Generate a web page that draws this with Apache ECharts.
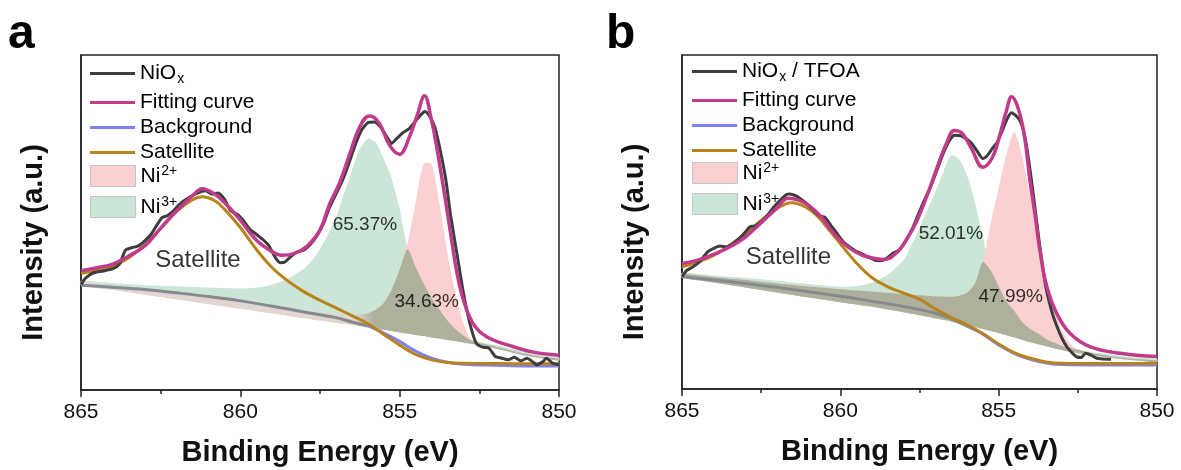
<!DOCTYPE html>
<html>
<head>
<meta charset="UTF-8">
<title>Ni 2p XPS</title>
<script src="https://cdn.jsdelivr.net/npm/echarts/dist/echarts.min.js"></script>
<style>
    html, body { margin: 0; padding: 0; background: #fff; }
    #main { width: 1181px; height: 470px; }
</style>
</head>
<body>
<div id="main"></div>
<script>
// ---- data (x = binding energy / eV, y = intensity, a.u. 0..100) ----
var rawA = [[865.0, 31.5], [864.85, 33.5], [864.6, 35.0], [864.3, 35.5], [864.0, 36.2], [863.8, 37.5], [863.6, 41.8], [863.4, 42.5],
    [863.2, 43.0], [863.0, 44.5], [862.8, 46.5], [862.6, 49.5], [862.45, 51.5], [862.3, 52.0], [862.1, 53.5], [861.9, 55.5],
    [861.6, 57.5], [861.3, 59.0], [861.1, 59.5], [860.9, 58.5], [860.7, 58.8], [860.5, 57.0], [860.3, 53.5], [860.1, 52.5],
    [859.9, 50.5], [859.7, 48.0], [859.5, 46.5], [859.3, 45.0], [859.1, 43.0], [858.9, 39.5], [858.75, 38.0], [858.6, 38.2],
    [858.4, 40.0], [858.2, 41.2], [858.0, 41.8], [857.8, 43.5], [857.6, 46.0], [857.4, 49.5], [857.2, 54.5], [857.0, 58.5],
    [856.8, 62.5], [856.6, 67.5], [856.4, 73.0], [856.2, 77.5], [856.0, 79.8], [855.8, 80.0], [855.6, 78.5], [855.4, 75.5],
    [855.25, 73.6], [855.1, 75.0], [854.9, 76.8], [854.7, 78.0], [854.5, 80.3], [854.3, 82.5], [854.2, 83.1], [854.05, 81.5],
    [853.9, 78.5], [853.75, 72.6], [853.55, 62.7], [853.4, 52.0], [853.2, 40.5], [853.0, 29.0], [852.8, 20.0], [852.6, 14.0],
    [852.4, 12.8], [852.2, 12.5], [852.0, 10.0], [851.8, 9.5], [851.6, 9.0], [851.4, 9.8], [851.2, 8.7], [851.0, 9.5],
    [850.8, 8.2], [850.7, 7.5], [850.5, 8.5], [850.4, 9.5], [850.2, 8.0], [850.0, 7.5]];
var fitA = [[865, 35.6], [864.5, 36.5], [864, 37.6], [863.5, 40.0], [863, 43.0], [862.5, 48.3], [862, 53.5], [861.5, 58.0],
    [861.2, 60.1], [860.8, 58.5], [860.4, 55.0], [860, 50.7], [859.5, 44.8], [859, 41.3], [858.7, 40.2], [858.3, 40.8],
    [857.9, 43.0], [857.5, 47.8], [857.2, 55.5], [856.9, 61.5], [856.6, 69.5], [856.25, 78.6], [855.95, 81.8], [855.65, 79.8],
    [855.3, 72.8], [855.0, 70.4], [854.7, 75.4], [854.45, 82.0], [854.22, 87.8], [854.0, 80.5], [853.84, 72.6], [853.58, 57.7],
    [853.37, 44.8], [853.2, 34.9], [853.0, 26.9], [852.7, 19.9], [852.27, 15.9], [851.43, 12.9], [850.8, 11.3], [850, 10.4]];
var bgA = [[865, 31.3], [864, 30.7], [863, 30.0], [862, 29.0], [861, 27.9], [860, 26.6], [859, 25.0], [858, 23.3], [857, 21.6],
    [856.5, 20.3], [856, 19.2], [855.5, 17.0], [855, 14.5], [854.5, 11.6], [854, 9.5], [853.5, 8.3], [853, 7.7], [852, 7.4],
    [851, 7.2], [850, 7.2]];
var satA = [[865, 34.8], [864.5, 35.7], [864, 36.8], [863.5, 39.5], [863, 43.3], [862.5, 48.2], [862, 53.3], [861.5, 56.8],
    [861.2, 57.7], [860.8, 56.5], [860.5, 54.0], [860, 48.5], [859.5, 42.0], [859, 36.5], [858.5, 32.5], [858, 29.3],
    [857.5, 26.8], [857, 24.5], [856.5, 22.2], [856, 19.8], [855.5, 16.6], [855, 13.4], [854.5, 10.6], [854, 9.0],
    [853.5, 8.2], [853, 8.0], [852, 7.9], [850, 7.8]];

var rawB = [[865.0, 33.6], [864.85, 35.5], [864.65, 36.6], [864.45, 38.0], [864.2, 41.0], [864.0, 42.1], [863.8, 42.8], [863.6, 42.5],
    [863.4, 43.5], [863.2, 45.0], [863.0, 47.0], [862.85, 48.6], [862.7, 48.8], [862.5, 50.0], [862.3, 52.0], [862.1, 54.5],
    [861.9, 56.5], [861.7, 58.2], [861.6, 58.4], [861.4, 57.8], [861.2, 56.5], [861.0, 55.0], [860.8, 53.0], [860.65, 51.8],
    [860.5, 51.5], [860.3, 49.0], [860.1, 46.5], [859.9, 44.0], [859.7, 42.5], [859.5, 41.2], [859.3, 40.4], [859.1, 39.5],
    [858.9, 38.5], [858.75, 38.4], [858.55, 39.0], [858.35, 40.6], [858.15, 41.5], [857.95, 44.0], [857.75, 47.5], [857.55, 52.0],
    [857.35, 56.5], [857.15, 60.5], [856.95, 65.5], [856.75, 70.5], [856.55, 74.5], [856.4, 76.0], [856.2, 75.8], [856.0, 74.8],
    [855.85, 73.5], [855.7, 71.5], [855.5, 69.0], [855.35, 70.0], [855.2, 72.0], [855.05, 73.8], [854.9, 77.0], [854.75, 80.5],
    [854.6, 82.7], [854.45, 81.8], [854.3, 79.8], [854.15, 74.5], [854.0, 65.0], [853.85, 54.0], [853.7, 42.6], [853.5, 30.0],
    [853.3, 22.5], [853.15, 18.5], [853.0, 15.2], [852.85, 12.7], [852.7, 11.0], [852.55, 9.7], [852.4, 9.4], [852.25, 10.7],
    [852.1, 10.2], [851.9, 9.2], [851.7, 9.0], [851.45, 8.9]];
var fitB = [[865, 37.6], [864.5, 38.6], [864, 40.3], [863.5, 42.5], [863, 45.5], [862.5, 49.8], [862, 54.2], [861.65, 57.1],
    [861.3, 56.5], [861, 55.0], [860.6, 51.5], [860.3, 47.6], [860, 44.5], [859.7, 42.1], [859.3, 40.0], [858.9, 39.1],
    [858.6, 38.8], [858.2, 41.0], [857.9, 45.0], [857.6, 50.0], [857.2, 59.5], [856.9, 67.5], [856.65, 73.5], [856.4, 77.4],
    [856.15, 76.5], [855.85, 71.8], [855.5, 66.4], [855.2, 69.3], [854.95, 76.5], [854.75, 83.5], [854.59, 87.5], [854.4, 84.5],
    [854.2, 76.5], [854.0, 61.5], [853.85, 52.0], [853.7, 41.6], [853.48, 30.6], [853.17, 22.7], [852.75, 16.7], [852.12, 12.7],
    [851.17, 10.7], [850, 9.7]];
var bgB = [[865, 33.6], [864, 32.6], [863, 31.6], [862, 30.4], [861, 29.1], [860, 27.8], [859, 26.3], [858, 24.7], [857, 22.7],
    [856.5, 21.0], [856, 18.8], [855.5, 16.4], [855, 13.2], [854.5, 10.6], [854, 8.9], [853.5, 7.8], [853, 7.3], [852, 7.2],
    [850, 7.2]];
var satB = [[865, 36.6], [864.5, 38.0], [864, 40.0], [863.5, 43.0], [863, 46.5], [862.5, 50.5], [862, 54.0], [861.55, 55.8],
    [861.1, 54.5], [860.7, 51.5], [860.3, 47.0], [860, 43.5], [859.5, 37.8], [859, 33.3], [858.5, 30.6], [858, 28.7],
    [857.5, 26.9], [857, 24.0], [856.5, 21.4], [856, 19.2], [855.5, 16.6], [855, 13.5], [854.5, 10.8], [854, 9.2],
    [853.5, 8.1], [853, 7.7], [852, 7.6], [850, 7.6]];

// peak components: energies shared by the baseline and both components of a panel
var fillE = [865, 864, 863, 862, 861, 860, 859.5, 859, 858.5, 858, 857.75, 857.5, 857.25, 857, 856.75, 856.5, 856.25, 856,
    855.75, 855.5, 855.25, 855, 854.75, 854.5, 854.25, 854, 853.75, 853.5, 853.25, 853, 852.75, 852.5, 852, 851.5, 851, 850.5, 850];
var baseA = [31.3, 29.9, 28.5, 27.1, 25.7, 24.3, 23.6, 22.9, 22.2, 21.5, 21.15, 20.8, 20.45, 20.1, 19.75, 19.4, 19.05, 18.7,
    18.3, 17.95, 17.6, 17.2, 16.85, 16.45, 16.1, 15.7, 15.35, 14.95, 14.6, 14.2, 13.8, 13.4, 12.4, 11.3, 10.2, 9.4, 8.8];
var ni3A = [1.3, 2.0, 2.8, 3.9, 4.9, 6.0, 6.9, 8.6, 11.1, 14.8, 17.5, 21.2, 26.0, 31.4, 38.8, 46.1, 52.8, 56.4,
    55.5, 51.0, 45.4, 36.8, 25.2, 20.3, 15.7, 11.8, 8.6, 5.8, 3.6, 2.1, 1.2, 1.0, 1.0, 1.0, 1.0, 1.0, 1.0];
var ni2A = [0.8, 1.2, 1.6, 2.0, 2.2, 2.3, 2.3, 2.3, 2.3, 2.3, 2.3, 2.4, 2.5, 2.6, 2.8, 3.1, 3.5, 4.2,
    5.7, 8.05, 12.4, 18.8, 27.15, 39.55, 51.4, 51.8, 40.15, 25.85, 14.2, 5.7, 1.0, 0.6, 0.6, 0.5, 0.5, 0.5, 0.5];
var baseB = [33.4, 31.9, 30.4, 28.9, 27.4, 26.0, 25.3, 24.6, 23.8, 23.0, 22.55, 22.1, 21.65, 21.2, 20.7, 20.2, 19.7, 19.2,
    18.6, 18.0, 17.4, 16.8, 16.1, 15.4, 14.7, 14.0, 13.4, 12.8, 12.2, 11.6, 11.2, 10.8, 10.0, 9.4, 8.8, 8.4, 8.0];
var ni3B = [1.4, 2.1, 2.9, 3.5, 4.0, 4.6, 5.5, 7.2, 10.5, 15.6, 20.65, 26.1, 32.15, 37.8, 44.3, 49.8, 49.1, 44.8,
    37.4, 27.5, 18.1, 14.0, 10.1, 7.9, 5.3, 4.0, 3.2, 2.2, 1.7, 1.3, 1.1, 1.0, 1.0, 1.0, 1.0, 1.0, 1.1];
var ni2B = [1.0, 1.6, 2.2, 2.7, 3.3, 3.9, 4.2, 4.6, 5.0, 5.4, 5.7, 6.0, 6.3, 6.6, 7.0, 7.4, 8.2, 9.6,
    12.9, 20.0, 32.1, 43.5, 54.4, 61.4, 54.5, 43.3, 31.2, 20.7, 11.6, 5.9, 2.6, 1.0, 0.6, 0.5, 0.5, 0.5, 0.5];

// annotations [text, energy, intensity]
var notesA = [['Satellite', 861.33, 38.8], ['65.37%', 856.09, 49.3], ['34.63%', 854.15, 26.4]];
var notesB = [['Satellite', 861.64, 39.4], ['52.01%', 856.51, 46.4], ['47.99%', 854.62, 27.6]];
var ticksE = [850, 855, 860, 865];
// background is seen through the peak fills above this energy
var bgCoveredFrom = 856;
// in panel a the thin tail overlap is pale, it turns olive under the peaks
var paleTailA = [856.4, 855.8];

// ---- styles ----
var FONT = "'Liberation Sans', Arial, Helvetica, sans-serif";
var C_RAW = '#3d3d3d', C_FIT = '#c13b8b', C_BG = '#8080f6', C_BG_UNDER = '#868a8f', C_SAT = '#b8831b';
var C_GREEN = '#cbe6d6', C_PINK = '#fcd0d0', C_OLIVE = '#adb09b', C_PALE = '#e2d6d3';

var chart = echarts.init(document.getElementById('main'));

var series = [];

function lineSeries(k, name, data, color, width, smooth, z) {
    return {
        type: 'line', name: name, xAxisIndex: k, yAxisIndex: k, data: data,
        symbol: 'none', showSymbol: false, smooth: smooth,
        itemStyle: { color: color }, lineStyle: { color: color, width: width }, z: z
    };
}

// a component peak: filled band between the fit baseline and baseline + component
function bandSeries(k, name, base, comp, color, pale) {
    return {
        type: 'custom', name: name, xAxisIndex: k, yAxisIndex: k, silent: true, z: 1,
        itemStyle: { color: color },
        data: [[857.5, 50]],
        renderItem: function (params, api) {
            var pts = [];
            fillE.forEach(function (e, i) { pts.push(api.coord([e, base[i] + comp[i]])); });
            for (var i = fillE.length - 1; i >= 0; i--) pts.push(api.coord([fillE[i], base[i]]));
            var fill = color;
            if (pale) {
                var x0 = api.coord([pale[0], 0])[0], x1 = api.coord([pale[1], 0])[0];
                fill = new echarts.graphic.LinearGradient(x0, 0, x1, 0,
                    [{ offset: 0, color: C_PALE }, { offset: 1, color: color }], true);
            }
            return {
                type: 'polygon',
                shape: { points: pts, smooth: 0.25 },
                style: { fill: fill, stroke: null }
            };
        }
    };
}

function addPanel(k, d) {
    var overlap = d.ni2.map(function (v, i) { return Math.min(v, d.ni3[i]); });
    series.push(bandSeries(k, 'Ni3+', d.base, d.ni3, C_GREEN));
    series.push(bandSeries(k, 'Ni2+', d.base, d.ni2, C_PINK));
    series.push(bandSeries(k, '_overlap', d.base, overlap, C_OLIVE, d.pale));
    var bgUnder = d.bg.filter(function (p) { return p[0] >= bgCoveredFrom; });
    var bgOpen = d.bg.filter(function (p) { return p[0] <= bgCoveredFrom; });
    series.push(lineSeries(k, '_bgUnder', bgUnder, C_BG_UNDER, 3, 0.4, 3));
    series.push(lineSeries(k, 'Background', bgOpen, C_BG, 3, 0.4, 3));
    series.push(lineSeries(k, 'Satellite', d.sat, C_SAT, 3, 0.4, 4));
    series.push(lineSeries(k, d.rawName, d.raw, C_RAW, 3, 0.2, 5));
    series.push(lineSeries(k, 'Fitting curve', d.fit, C_FIT, 3.5, 0.4, 6));
    series.push({
        type: 'scatter', name: '_notes', xAxisIndex: k, yAxisIndex: k, symbolSize: 0, silent: true, z: 7,
        data: d.notes.map(function (n) {
            return {
                value: [n[1], n[2]], name: n[0],
                label: { fontSize: n[0].indexOf('%') > 0 ? 19 : 24 }
            };
        }),
        label: {
            show: true, position: 'inside', formatter: '{b}', color: '#000',
            textBorderWidth: 0, fontFamily: FONT
        }
    });
}

addPanel(0, { raw: rawA, rawName: 'NiOx', fit: fitA, bg: bgA, sat: satA, base: baseA, ni2: ni2A, ni3: ni3A, notes: notesA, pale: paleTailA });
addPanel(1, { raw: rawB, rawName: 'NiOx / TFOA', fit: fitB, bg: bgB, sat: satB, base: baseB, ni2: ni2B, ni3: ni3B, notes: notesB });

function legendLabel(name) {
    if (name === 'NiOx') return '{t|NiO}{sub|x}';
    if (name === 'NiOx / TFOA') return '{t|NiO}{sub|x}{t| / TFOA}';
    if (name === 'Ni2+') return '{t|Ni}{sup|2+}';
    if (name === 'Ni3+') return '{t|Ni}{sup|3+}';
    return '{t|' + name + '}';
}

var legendText = {
    fontFamily: FONT, fontSize: 21, color: '#000',
    rich: {
        t: { fontFamily: FONT, fontSize: 21, color: '#000', lineHeight: 22 },
        sub: { fontFamily: FONT, fontSize: 14, color: '#000', padding: [12, 0, 0, 1] },
        sup: { fontFamily: FONT, fontSize: 14, color: '#000', padding: [0, 0, 10, 1] }
    }
};

function legends(left, tops, firstName) {
    var common = {
        orient: 'vertical', left: left, padding: 0, itemWidth: 45, selectedMode: false,
        formatter: legendLabel, textStyle: legendText
    };
    var box = { color: 'inherit', borderColor: '#c4c4c4', borderWidth: 1 };
    return [
        Object.assign({}, common, { top: tops[0], itemHeight: 3, data: [{ name: firstName, icon: 'rect' }] }),
        Object.assign({}, common, {
            top: tops[1], itemHeight: 3, itemGap: 4,
            data: ['Fitting curve', 'Background', 'Satellite'].map(function (n) { return { name: n, icon: 'rect' }; })
        }),
        Object.assign({}, common, {
            top: tops[2], itemHeight: 21, itemGap: 8,
            data: [{ name: 'Ni2+', icon: 'rect', itemStyle: box }, { name: 'Ni3+', icon: 'rect', itemStyle: box }]
        })
    ];
}

function xAxis(k) {
    return {
        type: 'value', gridIndex: k, inverse: true, min: 850, max: 865, interval: 5,
        name: 'Binding Energy (eV)', nameLocation: 'middle', nameGap: 48,
        nameTextStyle: { fontFamily: FONT, fontSize: 29, fontWeight: 'bold', color: '#111' },
        axisLine: { lineStyle: { color: '#222', width: 1.5 } },
        axisTick: { length: 7, lineStyle: { color: '#222', width: 1.5 } },
        minorTick: { show: true, splitNumber: 2, length: 4, lineStyle: { color: '#222', width: 1.5 } },
        axisLabel: {
            fontFamily: FONT, fontSize: 21, color: '#111', margin: 12,
            formatter: function (v) { return ticksE.indexOf(v) >= 0 ? String(v) : ''; }
        },
        splitLine: { show: false }
    };
}

function yAxis(k) {
    return {
        type: 'value', gridIndex: k, min: 0, max: 100,
        name: 'Intensity (a.u.)', nameLocation: 'middle', nameGap: 33, nameRotate: 90,
        nameTextStyle: { fontFamily: FONT, fontSize: 29, fontWeight: 'bold', color: '#111', padding: [0, 40, 0, 0] },
        axisLine: { show: true, lineStyle: { color: '#222', width: 1.5 } },
        axisTick: { show: false }, axisLabel: { show: false }, splitLine: { show: false }
    };
}

var gridStyle = { show: true, borderColor: '#222', borderWidth: 1.5, containLabel: false, outerBoundsMode: 'none' };
var letterStyle = { fontFamily: FONT, fontSize: 48, fontWeight: 'bold', color: '#000' };

var option = {
    backgroundColor: '#fff',
    animation: false,
    title: [
        { text: 'a', left: 8, top: 11, padding: 0, textStyle: letterStyle },
        { text: 'b', left: 606, top: 11, padding: 0, textStyle: letterStyle }
    ],
    grid: [
        Object.assign({ left: 81, top: 55, width: 478, height: 335 }, gridStyle),
        Object.assign({ left: 682, top: 55, width: 475, height: 334 }, gridStyle)
    ],
    xAxis: [xAxis(0), xAxis(1)],
    yAxis: [yAxis(0), yAxis(1)],
    legend: legends(90, [63, 92, 164], 'NiOx').concat(legends(692, [61, 90, 161], 'NiOx / TFOA')),
    series: series
};

chart.setOption(option);
</script>
</body>
</html>
